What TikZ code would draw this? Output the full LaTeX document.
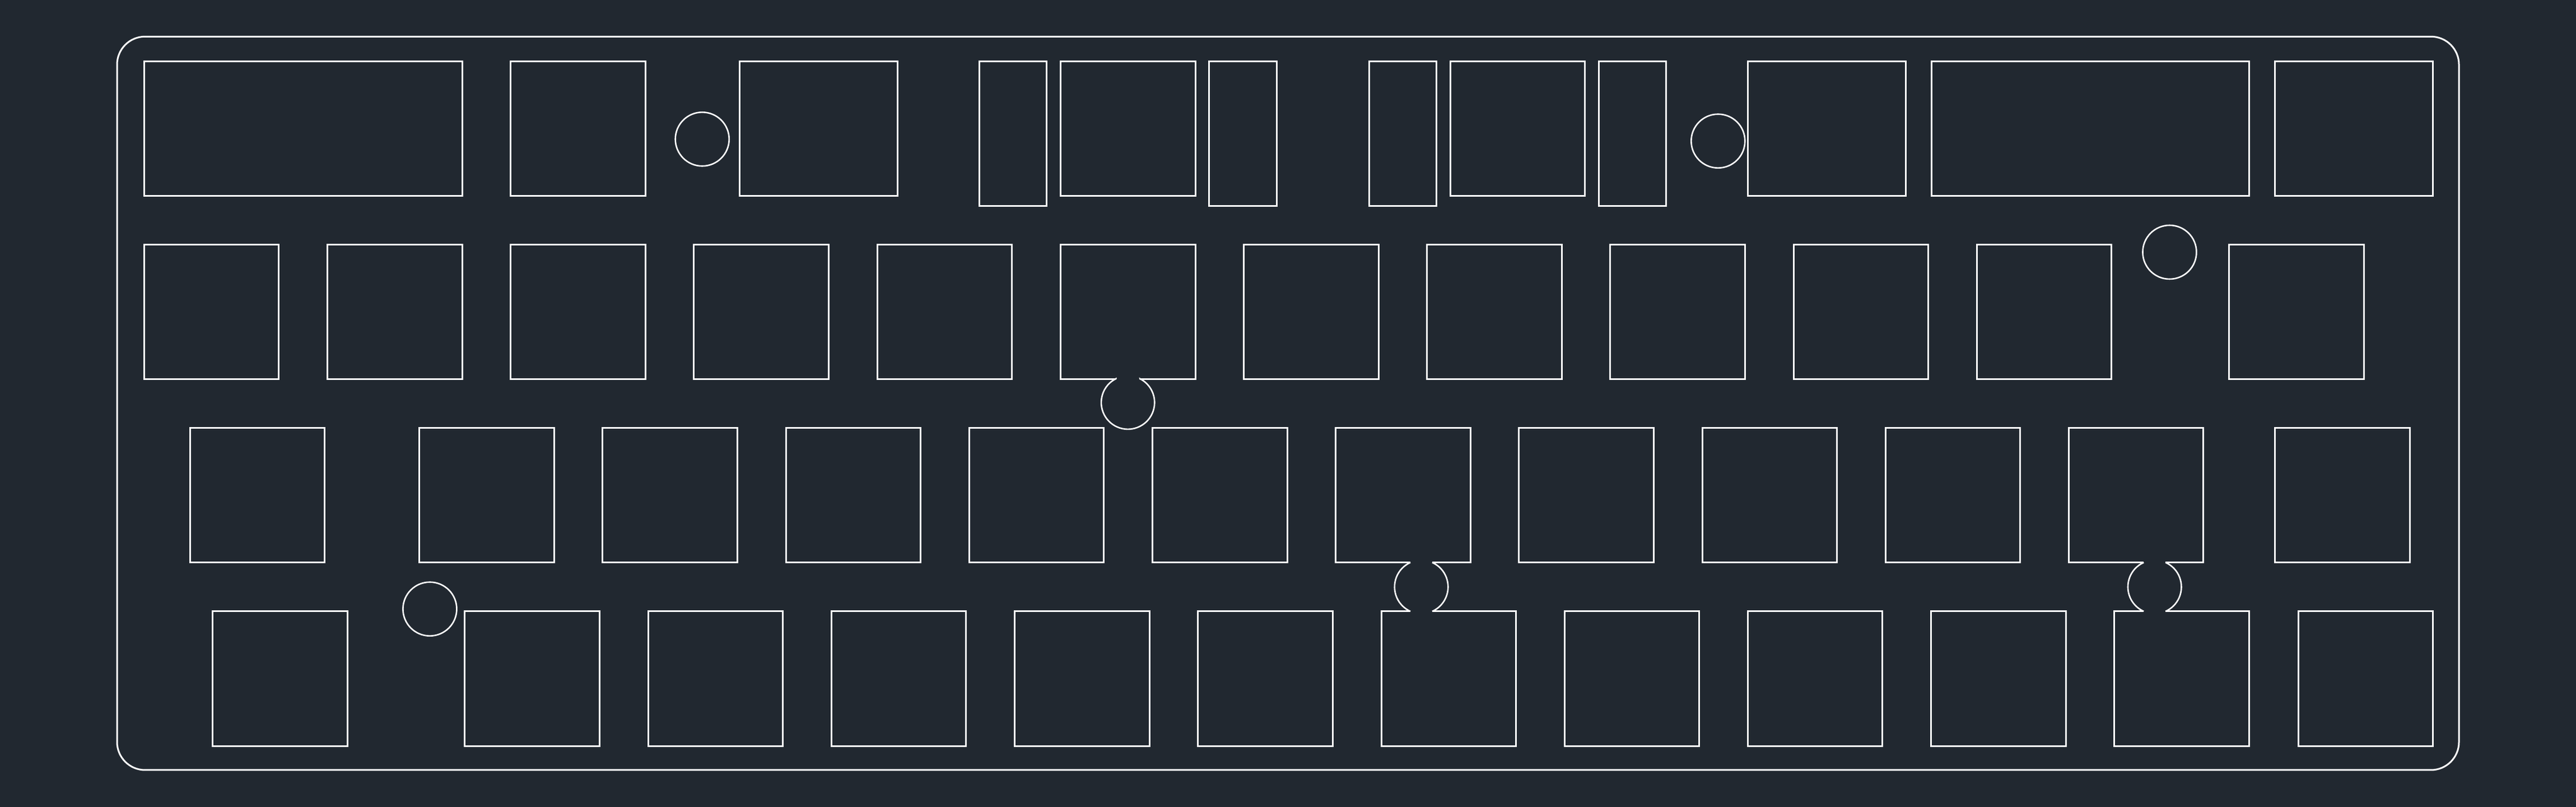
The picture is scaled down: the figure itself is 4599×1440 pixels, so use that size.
\documentclass[tikz,border=0pt]{standalone}
\definecolor{bgcol}{RGB}{33,40,48}
\tikzset{
  plate/.style={draw=white,line width=1.5pt,line join=miter},
  hole/.style={draw=white,line width=1.3pt}
}
% rectangle from left, top, right, bottom in reference pixels (y measured downward)
\newcommand{\cutout}[4]{\draw[plate] ({#1},{1440-(#2)}) rectangle ({#3},{1440-(#4)});}
\newcommand{\unitkey}[2]{\cutout{#1}{#2}{#1+240.6}{#2+240.4}}
\newcommand{\mounthole}[2]{\draw[hole] ({#1},{1440-(#2)}) circle[radius=24pt];}
% notched pair: top-key left, bottom-key left, centre x
\newcommand{\notchedpair}[3]{%
  \draw[plate] ({#3-19.5},{1440-1003.7}) -- ({#1},{1440-1003.7}) -- ({#1},{1440-763.3}) -- ({#1+240.6},{1440-763.3}) -- ({#1+240.6},{1440-1003.7}) -- ({#3+19.5},{1440-1003.7});
  \draw[plate] ({#3-19.5},{1440-1091}) -- ({#2},{1440-1091}) -- ({#2},{1440-1331.3}) -- ({#2+240.6},{1440-1331.3}) -- ({#2+240.6},{1440-1091}) -- ({#3+19.5},{1440-1091});
  \draw[hole] ({#3-19.5},{1440-1003.7}) arc[start angle=114.1,end angle=245.9,radius=23.88pt];
  \draw[hole] ({#3+19.5},{1440-1003.7}) arc[start angle=65.9,end angle=-65.9,radius=23.88pt];
}
\begin{document}
\begin{tikzpicture}[x=0.5pt,y=0.5pt]
\useasboundingbox[fill=bgcol] (0,0) rectangle (4599,1440);
% outer plate
\draw[plate,rounded corners=25pt] (209,{1440-65.3}) rectangle (4390,{1440-1374});
% top row
\cutout{257.3}{109.3}{825.7}{349.3}
\cutout{911.3}{109.3}{1152.7}{349.3}
\cutout{1320.3}{109.3}{1602.7}{349.3}
\cutout{1748.5}{109.3}{1868.5}{367.3}
\cutout{1893.6}{109.3}{2134.7}{349.3}
\cutout{2158.7}{109.3}{2279.5}{367.3}
\cutout{2444.5}{109.3}{2564.5}{367.3}
\cutout{2589.6}{109.3}{2829.6}{349.3}
\cutout{2854.7}{109.3}{2974.7}{367.3}
\cutout{3120.7}{109.3}{3402.7}{349.3}
\cutout{3448.7}{109.3}{4015.4}{349.3}
\cutout{4061.7}{109.3}{4343.7}{349.3}
% second row
\foreach \k in {0,1,2,3,4,6,7,8,9,10}{\unitkey{257.3+327.2*\k}{436.3}}
\unitkey{3979.4}{436.3}
% third row
\unitkey{339.2}{763.3}
\foreach \k in {0,1,2,3,4,6,7,8}{\unitkey{748.6+327.2*\k}{763.3}}
\unitkey{4061.7}{763.3}
% fourth row
\unitkey{379.7}{1091}
\foreach \k in {0,1,2,3,4}{\unitkey{829.8+327.2*\k}{1091}}
\foreach \k in {0,1,2}{\unitkey{2793+327.2*\k}{1091}}
\unitkey{4103}{1091}
% notched second-row key
\draw[plate] (1992.2,{1440-677}) -- (1893.4,{1440-677}) -- (1893.4,{1440-436.3}) -- (2134.5,{1440-436.3}) -- (2134.5,{1440-677}) -- (2035.2,{1440-677});
\draw[hole] (1992.2,{1440-677}) -- (1992.2,{1440-675.8}) arc[start angle=116.8,end angle=423.2,radius=23.8pt] -- (2035.2,{1440-677});
% notched pairs
\notchedpair{2384.6}{2466}{2537.5}
\notchedpair{3693.2}{3774.7}{3846.7}
% mounting holes
\mounthole{1253.7}{248.3}
\mounthole{3067.3}{251.7}
\mounthole{3873.4}{450}
\mounthole{767.4}{1086.7}
\end{tikzpicture}
\end{document}
